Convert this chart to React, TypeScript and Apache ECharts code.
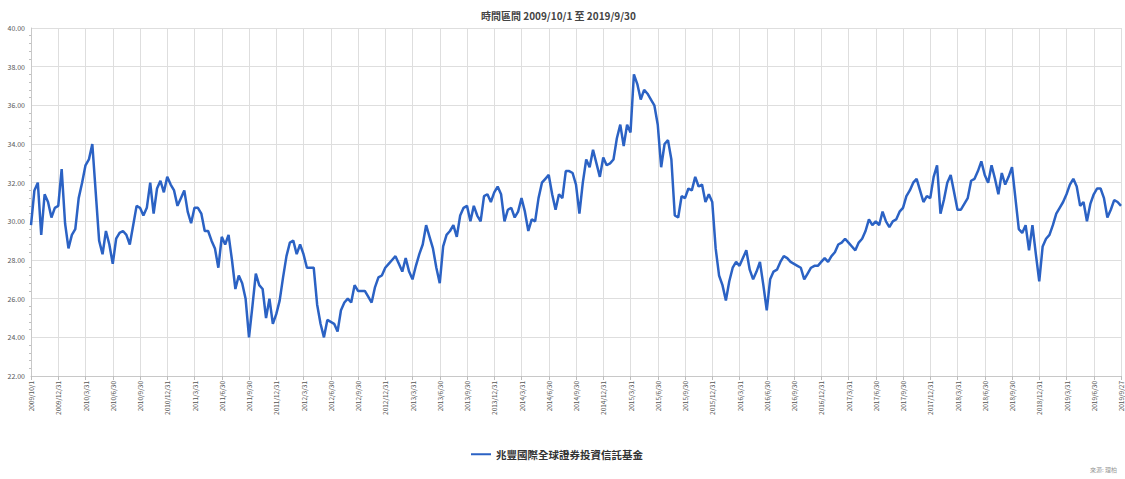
import React, { useEffect, useRef } from 'react';
import * as echarts from 'echarts';

const chartTitle = '時間區間 2009/10/1 至 2019/9/30';
const seriesName = '兆豐國際全球證券投資信託基金';
const sourceNote = '來源: 理柏';

const tickLabels = [
  '2009/10/1', '2009/12/31',
  '2010/3/31', '2010/6/30', '2010/9/30', '2010/12/31',
  '2011/3/31', '2011/6/30', '2011/9/30', '2011/12/31',
  '2012/3/31', '2012/6/30', '2012/9/30', '2012/12/31',
  '2013/3/31', '2013/6/30', '2013/9/30', '2013/12/31',
  '2014/3/31', '2014/6/30', '2014/9/30', '2014/12/31',
  '2015/3/31', '2015/6/30', '2015/9/30', '2015/12/31',
  '2016/3/31', '2016/6/30', '2016/9/30', '2016/12/31',
  '2017/3/31', '2017/6/30', '2017/9/30', '2017/12/31',
  '2018/3/31', '2018/6/30', '2018/9/30', '2018/12/31',
  '2019/3/31', '2019/6/30', '2019/9/27',
];

const pointsPerQuarter = 8;

const nav2009 = [29.8, 31.6, 32.0, 29.3, 31.4, 31.0, 30.2, 30.7];
const nav2010 = [
  30.8, 32.7, 29.9, 28.6, 29.3, 29.6, 31.2, 32.0,
  32.9, 33.2, 34.0, 31.5, 29.0, 28.3, 29.5, 28.8,
  27.8, 29.1, 29.4, 29.5, 29.3, 28.8, 29.8, 30.8,
  30.7, 30.3, 30.7, 32.0, 30.4, 31.7, 32.1, 31.5,
];
const nav2011 = [
  32.3, 31.9, 31.6, 30.8, 31.2, 31.6, 30.5, 29.9,
  30.7, 30.7, 30.4, 29.5, 29.5, 29.0, 28.6, 27.6,
  29.2, 28.8, 29.3, 28.0, 26.5, 27.2, 26.8, 26.0,
  24.0, 25.6, 27.3, 26.7, 26.5, 25.0, 26.0, 24.7,
];
const nav2012 = [
  25.2, 25.9, 27.1, 28.2, 28.9, 29.0, 28.3, 28.8,
  28.3, 27.6, 27.6, 27.6, 25.7, 24.7, 24.0, 24.9,
  24.8, 24.7, 24.3, 25.4, 25.8, 26.0, 25.8, 26.7,
  26.4, 26.4, 26.4, 26.1, 25.8, 26.6, 27.1, 27.2,
];
const nav2013 = [
  27.6, 27.8, 28.0, 28.2, 27.8, 27.4, 28.1, 27.4,
  27.0, 27.7, 28.3, 28.8, 29.8, 29.2, 28.6, 27.6,
  26.8, 28.7, 29.3, 29.5, 29.8, 29.2, 30.3, 30.7,
  30.8, 30.0, 30.8, 30.3, 30.0, 31.3, 31.4, 31.0,
];
const nav2014 = [
  31.5, 31.8, 31.4, 30.0, 30.6, 30.7, 30.2, 30.5,
  31.2, 30.5, 29.5, 30.1, 30.0, 31.2, 32.0, 32.2,
  32.4, 31.4, 30.6, 31.4, 31.2, 32.6, 32.6, 32.5,
  31.9, 30.4, 32.0, 33.2, 32.8, 33.7, 33.0, 32.3,
];
const nav2015 = [
  33.3, 32.9, 33.0, 33.2, 34.3, 35.0, 33.9, 35.0,
  34.6, 37.6, 37.1, 36.3, 36.8, 36.6, 36.3, 36.0,
  35.0, 32.8, 34.0, 34.2, 33.2, 30.3, 30.2, 31.3,
  31.2, 31.7, 31.6, 32.3, 31.8, 31.9, 31.0, 31.4,
];
const nav2016 = [
  31.0, 28.6, 27.2, 26.7, 25.9, 26.9, 27.6, 27.9,
  27.7, 28.1, 28.5, 27.5, 27.0, 27.4, 27.9, 26.7,
  25.4, 27.0, 27.4, 27.5, 27.9, 28.2, 28.1, 27.9,
  27.8, 27.7, 27.6, 27.0, 27.3, 27.6, 27.7, 27.7,
];
const nav2017 = [
  27.9, 28.1, 27.9, 28.2, 28.4, 28.8, 28.9, 29.1,
  28.9, 28.7, 28.5, 28.9, 29.1, 29.5, 30.1, 29.8,
  30.0, 29.8, 30.5, 30.0, 29.7, 30.0, 30.1, 30.5,
  30.7, 31.3, 31.6, 32.0, 32.2, 31.6, 31.0, 31.3,
];
const nav2018 = [
  31.2, 32.3, 32.9, 30.4, 31.1, 32.0, 32.4, 31.5,
  30.6, 30.6, 30.9, 31.2, 32.1, 32.2, 32.6, 33.1,
  32.4, 32.0, 32.9, 32.2, 31.4, 32.5, 31.9, 32.3,
  32.8, 31.2, 29.6, 29.4, 29.8, 28.5, 29.8, 28.3,
];
const nav2019 = [
  26.9, 28.7, 29.1, 29.3, 29.8, 30.4, 30.7, 31.0,
  31.4, 31.9, 32.2, 31.8, 30.8, 31.0, 30.0, 30.9,
  31.4, 31.7, 31.7, 31.2, 30.2, 30.6, 31.1, 31.0,
  30.8,
];

const FONT = '"Noto Sans CJK TC", "Noto Sans", sans-serif';

export default function App() {
  const ref = useRef<HTMLDivElement>(null);

  useEffect(() => {
    if (!ref.current) return;
    const chart = echarts.init(ref.current, null, { renderer: 'svg' });
    const values = [
      ...nav2009, ...nav2010, ...nav2011, ...nav2012, ...nav2013,
      ...nav2014, ...nav2015, ...nav2016, ...nav2017, ...nav2018, ...nav2019,
    ];
    const data = values.map((v, i) => [i, v]);
    const maxX = (tickLabels.length - 1) * pointsPerQuarter;

    chart.setOption({
      animation: false,
      backgroundColor: '#ffffff',
      textStyle: { fontFamily: FONT },
      title: {
        text: chartTitle,
        left: 476,
        top: 5,
        textStyle: { fontSize: 10, fontWeight: 'bold', color: '#444', fontFamily: FONT },
      },
      legend: {
        data: [seriesName],
        left: 466,
        top: 444,
        icon: 'rect',
        itemWidth: 20,
        itemHeight: 2,
        itemGap: 6,
        textStyle: { fontSize: 10.5, fontWeight: 'bold', color: '#333', fontFamily: FONT },
      },
      grid: { left: 31, right: 4, top: 28, bottom: 103, containLabel: false },
      xAxis: {
        type: 'value',
        min: 0,
        max: maxX,
        interval: pointsPerQuarter,
        axisLine: { show: true, lineStyle: { color: '#c8c8c8', width: 1 } },
        axisTick: { show: true, length: 4, lineStyle: { color: '#bdbdbd' } },
        axisLabel: {
          rotate: 90,
          fontSize: 6.5,
          color: '#555555',
          margin: 5,
          showMinLabel: true,
          showMaxLabel: true,
          formatter: (v: number) => tickLabels[Math.round(v / pointsPerQuarter)] ?? '',
        },
        splitLine: { show: true, lineStyle: { color: '#dedede', width: 1 } },
      },
      yAxis: {
        type: 'value',
        min: 22,
        max: 40,
        interval: 2,
        axisLine: { show: true, lineStyle: { color: '#c8c8c8', width: 1 } },
        axisTick: { show: false },
        minorTick: { show: true, splitNumber: 5, length: 2, lineStyle: { color: '#c0c0c0' } },
        axisLabel: {
          fontSize: 7,
          color: '#555555',
          margin: 6,
          formatter: (v: number) => v.toFixed(2),
        },
        splitLine: { show: true, lineStyle: { color: '#dedede', width: 1 } },
      },
      series: [
        {
          name: seriesName,
          type: 'line',
          data,
          showSymbol: false,
          symbol: 'none',
          lineStyle: { color: '#2b62c4', width: 2.5 },
          itemStyle: { color: '#2b62c4' },
        },
      ],
      graphic: [
        {
          type: 'text',
          right: 8,
          top: 466,
          style: { text: sourceNote, fontSize: 6, fill: '#999', fontFamily: FONT },
        },
      ],
    });

    return () => chart.dispose();
  }, []);

  return (
    <div
      ref={ref}
      style={{ position: 'fixed', left: 0, top: 0, width: 1125, height: 479, background: '#fff' }}
    />
  );
}
